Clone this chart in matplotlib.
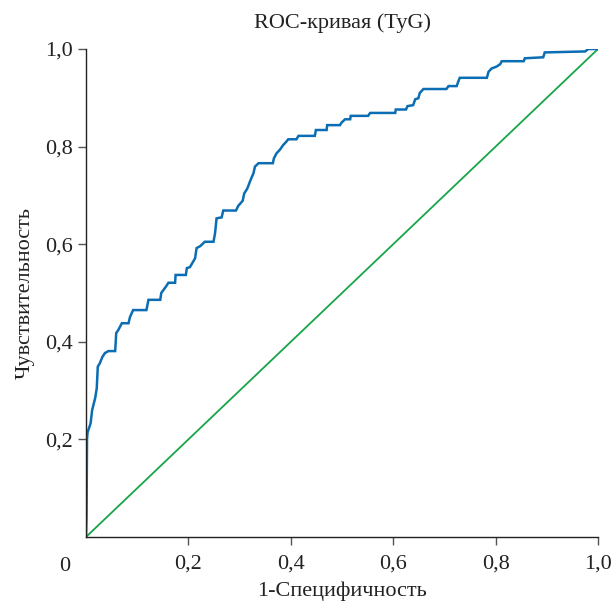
import matplotlib
matplotlib.use("Agg")
import matplotlib.pyplot as plt

plt.rcParams['font.family'] = ['Liberation Serif', 'DejaVu Serif']

title = "ROC-кривая (TyG)"
xlabel = "1-Специфичность"
ylabel = "Чувствительность"
tick_vals = [0.2, 0.4, 0.6, 0.8, 1.0]
tick_labels = ["0,2", "0,4", "0,6", "0,8", "1,0"]

fpr = [0.0, 0.001, 0.002, 0.003, 0.009, 0.012, 0.018, 0.021, 0.023, 0.027, 0.032, 0.037,
       0.044, 0.057, 0.059, 0.063, 0.070, 0.083, 0.086, 0.092, 0.118, 0.122, 0.145, 0.147,
       0.156, 0.161, 0.174, 0.175, 0.195, 0.197, 0.203, 0.213, 0.216, 0.223, 0.232, 0.249,
       0.252, 0.255, 0.265, 0.268, 0.293, 0.297, 0.306, 0.309, 0.315, 0.319, 0.324, 0.327,
       0.330, 0.337, 0.365, 0.367, 0.372, 0.379, 0.385, 0.392, 0.395, 0.411, 0.415, 0.447,
       0.449, 0.470, 0.471, 0.496, 0.499, 0.506, 0.516, 0.517, 0.551, 0.555, 0.604, 0.605,
       0.625, 0.628, 0.639, 0.643, 0.649, 0.652, 0.659, 0.704, 0.708, 0.724, 0.727, 0.730,
       0.783, 0.786, 0.792, 0.802, 0.809, 0.812, 0.855, 0.857, 0.893, 0.896, 0.975, 0.981,
       1.0]
tpr = [0.0, 0.040, 0.200, 0.214, 0.233, 0.260, 0.285, 0.305, 0.349, 0.356, 0.369, 0.377,
       0.381, 0.381, 0.418, 0.424, 0.438, 0.438, 0.451, 0.465, 0.465, 0.486, 0.486, 0.500,
       0.513, 0.521, 0.521, 0.537, 0.537, 0.551, 0.553, 0.571, 0.592, 0.596, 0.605, 0.605,
       0.622, 0.653, 0.655, 0.669, 0.669, 0.678, 0.689, 0.704, 0.714, 0.725, 0.738, 0.745,
       0.759, 0.766, 0.766, 0.776, 0.786, 0.794, 0.803, 0.811, 0.815, 0.815, 0.822, 0.822,
       0.834, 0.834, 0.844, 0.844, 0.849, 0.856, 0.856, 0.863, 0.863, 0.869, 0.869, 0.876,
       0.876, 0.883, 0.885, 0.897, 0.899, 0.910, 0.918, 0.918, 0.924, 0.924, 0.933, 0.941,
       0.941, 0.953, 0.960, 0.964, 0.969, 0.975, 0.975, 0.981, 0.983, 0.993, 0.995, 1.0,
       1.0]
ref_x = [0.0, 1.0]
ref_y = [0.0, 1.0]

fig = plt.figure(figsize=(6.15, 6.05), dpi=100)
ax = fig.add_axes([86/615, 68/605, 512/615, 488/605])

ax.plot(ref_x, ref_y, color="#17a549", lw=1.3, solid_capstyle='butt')
ax.plot(fpr, tpr, color="#0b6db3", lw=1.8, solid_joinstyle='miter')

ax.set_xlim(0, 1)
ax.set_ylim(0, 1)
for s in ['top', 'right']:
    ax.spines[s].set_visible(False)
for s in ['left', 'bottom']:
    ax.spines[s].set_linewidth(1.0)
    ax.spines[s].set_color('#222222')

ax.set_xticks(tick_vals)
ax.set_xticklabels(tick_labels)
ax.set_yticks(tick_vals)
ax.set_yticklabels(tick_labels)
ax.tick_params(axis='both', direction='out', length=5.8, width=1.0, color='#555555',
               labelsize=16, labelcolor='#222222', pad=4)
ax.tick_params(axis='x', pad=7)

ax.annotate("0", xy=(0, 0), xycoords='data', xytext=(-15, -21), textcoords='offset points',
            ha='center', va='center', fontsize=16, color='#222222')

ax.set_title(title, fontsize=16, color='#222222', pad=15)
ax.set_xlabel(xlabel, fontsize=16, color='#222222', labelpad=5.5)
ax.set_ylabel(ylabel, fontsize=16, color='#222222', labelpad=7)

fig.savefig("out.png", dpi=100)
